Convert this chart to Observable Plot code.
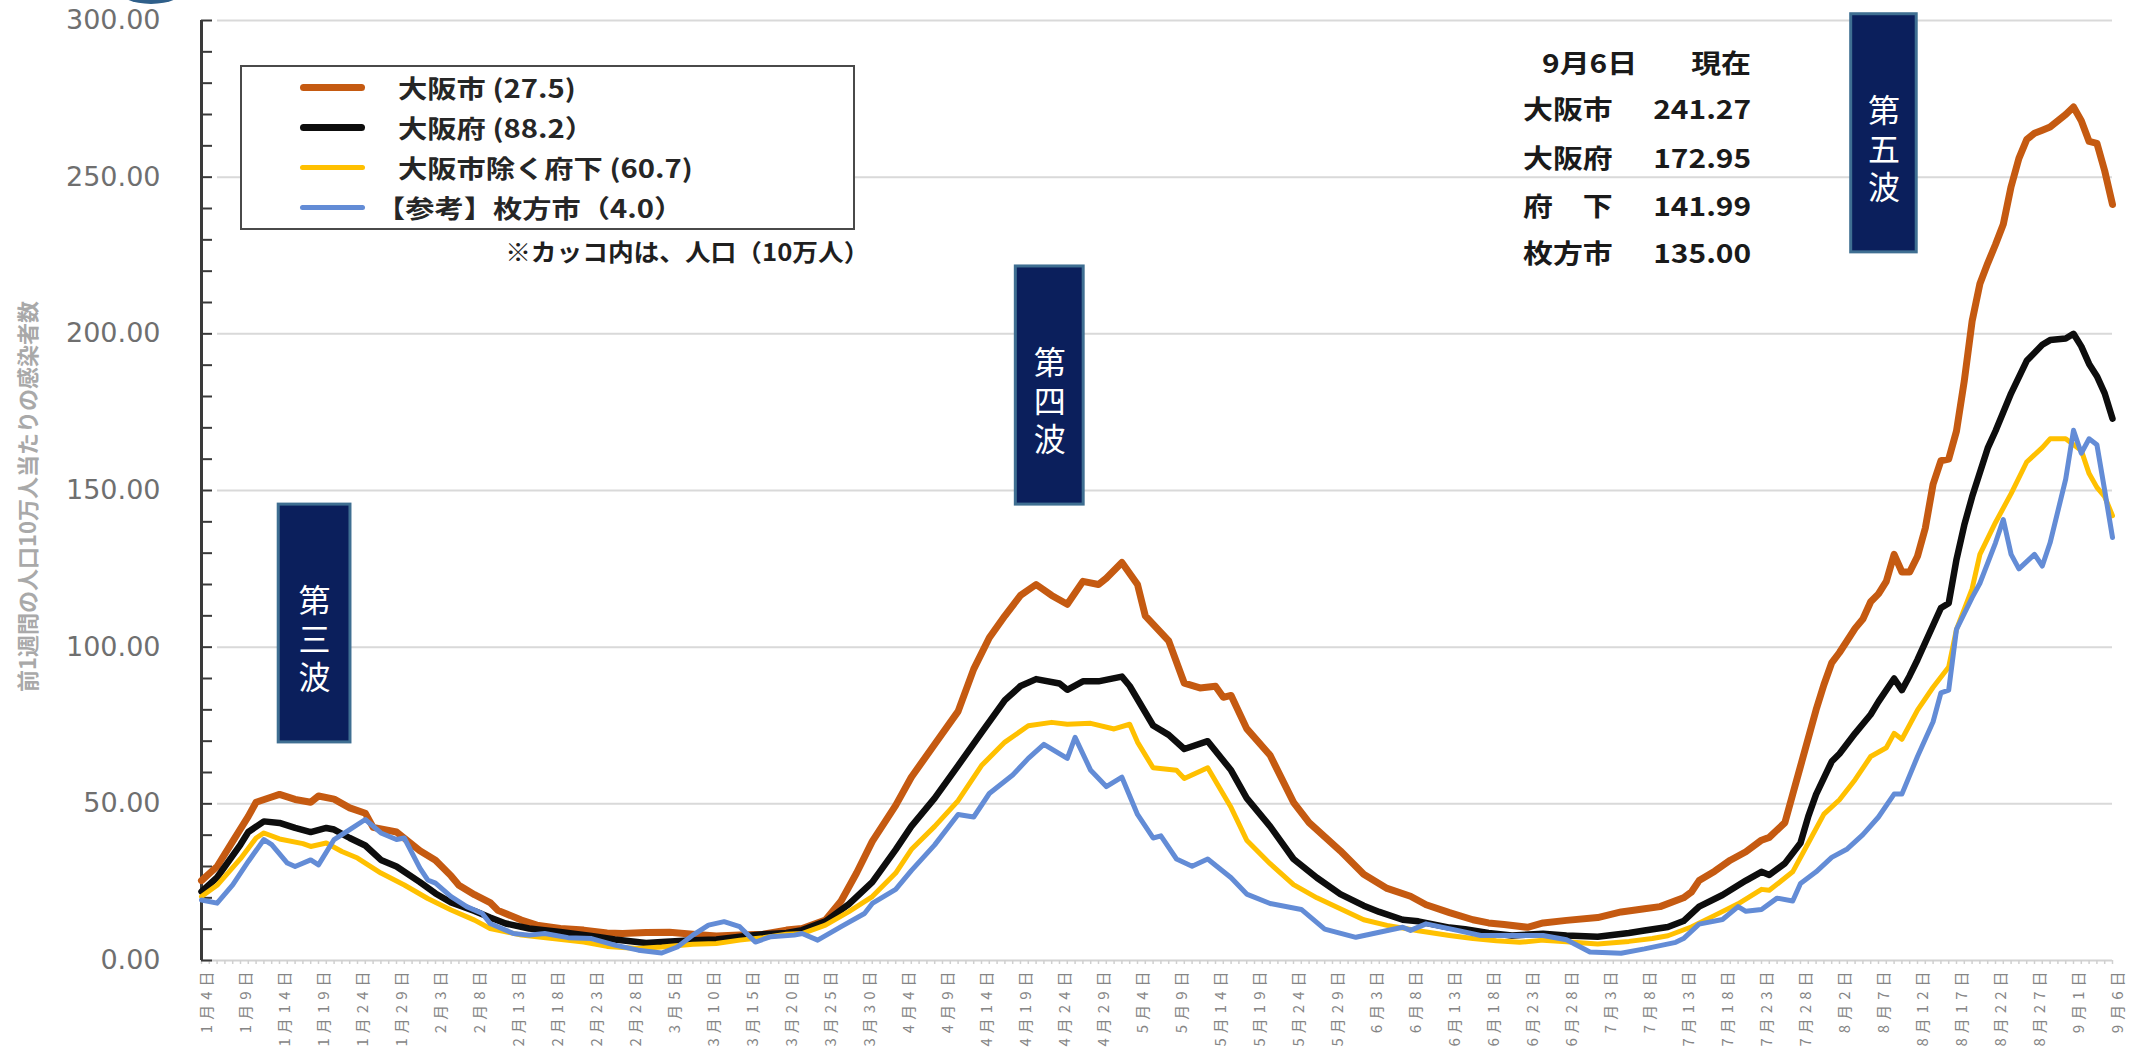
<!DOCTYPE html>
<html>
<head>
<meta charset="utf-8">
<script src="https://cdn.jsdelivr.net/npm/d3@7"></script>
<script src="https://cdn.jsdelivr.net/npm/@observablehq/plot@0.6"></script>
<style>
  html, body { margin: 0; padding: 0; background: #fff; }
  #wrap { position: relative; width: 2130px; height: 1051px; overflow: hidden; font-family: "Noto Sans CJK JP", sans-serif; }
  #chart svg { display: block; }
  g[aria-label="x-axis tick label"] text { letter-spacing: 5px; }
  g[aria-label="ytitle"] text { letter-spacing: 2px; }
  .legend { position: absolute; left: 240px; top: 65px; width: 615px; height: 165px; border: 2px solid #4a4a4a; box-sizing: border-box; background: #fff; }
  .sw { position: absolute; left: 58px; width: 65px; border-radius: 5px; }
  .lt { position: absolute; white-space: nowrap; font-size: 25px; font-weight: bold; color: #262626; height: 40px; line-height: 40px; transform: scaleX(1.17); transform-origin: left center; }
  .note { position: absolute; right: calc(2130px - 869px); top: 231px; height: 40px; line-height: 40px; white-space: nowrap; font-size: 24px; font-weight: bold; color: #1f1f1f; transform: scaleX(1.07); transform-origin: right center; }
  .tl, .tv { position: absolute; white-space: nowrap; font-size: 26px; font-weight: bold; color: #1a1a1a; height: 40px; line-height: 40px; }
  .tl { transform: scaleX(1.15); transform-origin: left center; }
  .tv { transform: scaleX(1.15); transform-origin: right center; text-align: right; }
  .blob { position: absolute; left: 118px; top: -26px; width: 66px; height: 30px; border-radius: 50%; background: #2f5f8a; }
</style>
</head>
<body>
<div id="wrap">
  <div id="chart"></div>
  <div class="blob"></div>
</div>
<script>
// ---- Data: [days since 2021-01-04, value per 100k over previous week] ----
const seriesNames = ["大阪市", "大阪府", "大阪市除く府下", "枚方市"];
const legendLabels = ["大阪市 (27.5)", "大阪府 (88.2）", "大阪市除く府下 (60.7)", "【参考】枚方市（4.0）"];
const seriesColors = ["#c55a11", "#0d0d0d", "#ffc000", "#638cd6"];

const osakaCity = [[0,25.5],[2,30],[4,38],[6,46],[7,50.5],[9,52.2],[10,53],[12,51.4],[14,50.5],[15,52.5],[17,51.5],[19,48.7],[21,47],[22,42.5],[25,41],[26,39],[28,35],[30,32],[32,27],[33,24],[35,21],[37,18.5],[38,16],[41,12.9],[43,11.3],[46,10.2],[49,9.7],[52,8.8],[54,8.6],[57,8.9],[60,9],[63,8.4],[66,7.8],[69,8.1],[72,8.4],[75,9.7],[77,10.2],[80,12.9],[82,19],[84,28],[86,38],[89,49.5],[91,58.5],[94,69],[97,79.5],[99,93],[101,103],[103,110],[105,116.5],[107,120],[109,116.5],[111,113.7],[113,121],[115,120],[116,122],[118,127],[120,120],[121,110],[124,102],[126,88.5],[128,87],[130,87.5],[131,84],[132,84.6],[134,74],[137,65.5],[140,50.5],[142,44],[146,35],[149,27.5],[152,23],[155,20.5],[157,17.8],[160,15.3],[163,13],[165,12],[167,11.5],[170,10.6],[172,12],[175,12.8],[179,13.7],[182,15.5],[185,16.5],[187,17.2],[190,20],[191,21.8],[192,25.5],[194,28.5],[196,32],[198,34.7],[200,38.4],[201,39.3],[203,44],[204,53],[205,62],[207,80],[208,88],[209,95],[210,98.3],[212,106],[213,109],[214,114.5],[215,117],[216,121],[217,129.6],[218,124],[219,124],[220,129],[221,138],[222,152],[223,159.5],[224,160],[225,169],[226,185],[227,204],[228,216],[229,222.5],[230,228.5],[231,235],[232,247],[233,256],[234,262],[235,264],[236,265],[237,266],[238,268],[239,270],[240,272.4],[241,268],[242,261.4],[243,260.8],[244,252],[245,241.27]];

const osakaPref = [[0,22],[2,26.5],[5,37],[6,41],[8,44.4],[10,43.9],[12,42.3],[14,41],[16,42.3],[17,41.8],[19,39.1],[21,36.7],[23,32.1],[25,30],[28,25],[30,21.4],[32,18.5],[35,15.8],[37,13.7],[39,11.8],[42,10.2],[46,9.1],[50,7.8],[53,6.7],[57,5.6],[59,5.9],[63,6.5],[66,6.7],[69,7.6],[72,8.4],[75,8.8],[77,9.7],[80,12.5],[83,18],[86,25],[89,35.4],[91,42.8],[94,51.8],[97,62.2],[100,72.7],[103,83.1],[105,87.6],[107,89.8],[110,88.4],[111,86.4],[113,89.1],[115,89.1],[118,90.6],[119,87.6],[122,75],[124,72],[126,67.5],[129,70],[132,60.7],[134,51.8],[137,42.8],[140,32.4],[143,26.4],[146,21.2],[149,17.5],[151,15.5],[154,13],[156,12.5],[160,10.5],[162,10],[165,8.8],[168,8],[172,8.5],[175,8],[179,7.6],[183,8.8],[185,9.6],[188,10.7],[190,12.6],[192,17.2],[195,20.9],[198,25.5],[200,28.3],[201,27.3],[203,31],[205,37.5],[206,46],[207,53],[209,63.5],[210,66],[212,72.5],[214,78.5],[215,82.6],[217,90],[218,86.3],[219,90.9],[220,96],[222,107],[223,112.5],[224,114],[225,128],[226,139],[227,148],[229,163.5],[230,169],[232,181],[234,191.4],[236,196.5],[237,198],[239,198.5],[240,200],[241,196],[242,190.4],[243,186.5],[244,181],[245,172.95]];

const prefExclCity = [[0,20.4],[2,24],[5,32.5],[7,39.1],[8,40.7],[10,38.8],[13,37.3],[14,36.4],[16,37.5],[18,34.8],[20,32.7],[23,27.9],[26,24.1],[29,19.8],[32,16.1],[35,12.9],[37,10.2],[41,8.1],[45,7],[49,5.9],[52,4.5],[56,3.8],[59,4.3],[63,5.2],[66,5.4],[69,6.5],[72,7.3],[75,8.4],[77,8.6],[80,11.3],[83,15.6],[86,20.4],[89,27.9],[91,35.4],[94,42.8],[97,51],[100,62.2],[103,69.7],[106,74.9],[109,76],[111,75.4],[114,75.7],[117,73.9],[119,75.4],[120,69.7],[122,61.5],[125,60.7],[126,58.1],[129,61.5],[132,48.8],[134,38.4],[137,30.9],[140,24.2],[143,20],[146,16.5],[149,13],[152,11.2],[156,9.5],[160,8],[163,7],[166,6.3],[169,5.8],[172,6.5],[175,6],[179,5.3],[183,6.1],[186,7],[188,7.9],[191,10.7],[194,14.4],[197,18.1],[200,22.7],[201,22.4],[204,28.3],[206,37.5],[208,46.7],[210,51.3],[212,57.7],[214,65.1],[216,67.9],[217,72.5],[218,70.6],[220,79.9],[222,87.2],[224,93.7],[225,105.7],[227,118.6],[228,129.6],[230,139.8],[232,149],[234,159.1],[236,163.7],[237,166.5],[239,166.5],[241,162.8],[242,155.4],[243,151],[244,148],[245,141.99]];

const hirakata = [[0,19.3],[2,18.3],[4,24.1],[6,31.6],[8,38.6],[9,37],[11,31.1],[12,30],[14,32.1],[15,30.5],[17,38.6],[19,41.8],[21,45],[23,40.7],[25,38.6],[26,39.1],[28,29.5],[29,25.7],[30,24.7],[32,20.4],[34,17.2],[36,15],[37,11.8],[40,8.6],[42,8.1],[44,8.6],[47,7.3],[50,7],[53,4.9],[56,3.3],[59,2.4],[61,4.3],[63,8.1],[65,11.3],[67,12.4],[69,10.8],[71,5.9],[73,7.6],[76,8.1],[77,8.6],[79,6.5],[82,10.8],[85,15],[86,18.2],[89,22.7],[91,28.7],[94,36.9],[97,46.6],[99,45.8],[101,53.3],[104,59.2],[106,64.5],[108,69],[111,64.5],[112,71.2],[114,60.7],[116,55.5],[118,58.5],[120,46.6],[122,39.1],[123,39.8],[125,32.4],[127,30.1],[129,32.4],[132,26.4],[134,21.2],[137,18.2],[141,16.3],[144,10],[148,7.4],[151,9],[154,10.6],[155,9.6],[157,11.7],[161,9.6],[164,8],[168,8],[172,8],[175,6.6],[178,2.7],[182,2.3],[185,3.7],[189,5.8],[190,7],[192,11.6],[195,13.1],[197,17.2],[198,15.7],[200,16.3],[202,19.9],[204,19],[205,24.6],[207,28.3],[209,32.9],[211,35.6],[213,40.2],[215,45.8],[217,53.1],[218,53.1],[220,65.1],[222,76.2],[223,85.4],[224,86.3],[225,105.7],[227,115.8],[228,120.4],[230,133.3],[231,140.7],[232,129.6],[233,125],[235,129.6],[236,125.9],[237,133.3],[239,153.6],[240,169.2],[241,161.9],[242,166.5],[243,164.6],[244,150],[245,135]];

// x tick labels (every 5 days from 1月4日)
const tickLabels = ["1月4日","1月9日","1月14日","1月19日","1月24日","1月29日","2月3日","2月8日","2月13日","2月18日","2月23日","2月28日","3月5日","3月10日","3月15日","3月20日","3月25日","3月30日","4月4日","4月9日","4月14日","4月19日","4月24日","4月29日","5月4日","5月9日","5月14日","5月19日","5月24日","5月29日","6月3日","6月8日","6月13日","6月18日","6月23日","6月28日","7月3日","7月8日","7月13日","7月18日","7月23日","7月28日","8月2日","8月7日","8月12日","8月17日","8月22日","8月27日","9月1日","9月6日"];
const yTicks = [0, 50, 100, 150, 200, 250, 300];

// Wave annotation boxes (in data units)
const waveLabels = ["第三波", "第四波", "第五波"];
const waveDays = [[9.9, 19.1], [104.4, 113.1], [211.5, 219.9]];
const waveValues = [[69.6, 145.5], [145.5, 221.5], [226, 302]];

// Current values table
const tableHeader = ["9月6日", "現在"];
const tableNames = ["大阪市", "大阪府", "府　下", "枚方市"];
const tableValues = ["241.27", "172.95", "141.99", "135.00"];
const noteText = "※カッコ内は、人口（10万人）";
const yTitle = "前1週間の人口10万人当たりの感染者数";

// ---- Build ----
const allSeries = [osakaCity, osakaPref, prefExclCity, hirakata];
const widths = [7, 6.5, 5, 5];
const toRows = (arr, name) => arr.map(([day, value]) => ({day, value, series: name}));
const waves = waveLabels.map((label, i) => ({label, x1: waveDays[i][0], x2: waveDays[i][1], y1: waveValues[i][0], y2: waveValues[i][1]}));

const W = 2130, H = 1051, mL = 201, mR = 18, mT = 20, mB = 91;
const plotW = W - mL - mR;

const chart = Plot.plot({
  width: W, height: H,
  marginLeft: mL, marginRight: mR, marginTop: mT, marginBottom: mB,
  style: {fontFamily: "'Noto Sans CJK JP', sans-serif", background: "transparent", overflow: "visible"},
  x: {domain: [0, 245], label: null},
  y: {domain: [0, 300], label: null},
  color: {domain: seriesNames, range: seriesColors},
  marks: [
    Plot.ruleY(yTicks.slice(1), {stroke: "#d9d9d9", strokeWidth: 2, insetLeft: 16}),
    Plot.ruleY([0], {stroke: "#d2d2d2", strokeWidth: 2}),
    Plot.axisX({ticks: d3.range(0, 246), tickSize: 4, tickFormat: () => "", stroke: "#d0d0d0", strokeWidth: 1.5}),
    Plot.axisX({ticks: tickLabels.map((_, i) => i * 5), tickFormat: d => tickLabels[Math.round(d / 5)], tickRotate: -90, tickSize: 0, tickPadding: 6, fontSize: 15, fill: "#858585", dx: 6}),
    Plot.axisY({ticks: yTicks, tickFormat: d => d.toFixed(2), tickSize: 0, tickPadding: 41, fontSize: 27, fontFamily: "DejaVu Sans", fill: "#6f6f6f"}),
    Plot.ruleY(d3.range(0, 301, 10), {stroke: "#3a3a3a", strokeWidth: 2, insetRight: plotW - 11}),
    Plot.ruleX([0], {stroke: "#3a3a3a", strokeWidth: 3}),
    Plot.text([yTitle], {text: d => d, frameAnchor: "left", textAnchor: "middle", dx: -173, dy: 6, rotate: -90, fontSize: 22, fontWeight: "bold", fill: "#a9a9a9", ariaLabel: "ytitle"}),
    ...allSeries.map((arr, i) => Plot.line(toRows(arr, seriesNames[i]), {x: "day", y: "value", stroke: "series", strokeWidth: widths[i], strokeLinejoin: "round", strokeLinecap: "round"})),
    Plot.rect(waves, {x1: "x1", x2: "x2", y1: "y1", y2: "y2", fill: "#0b1f5c", stroke: "#3f6f92", strokeWidth: 3}),
    Plot.text(waves, {x: d => (d.x1 + d.x2) / 2, y: d => (d.y1 + d.y2) / 2, text: d => d.label.split("").join("\n"), fill: "white", fontSize: 32, lineHeight: 1.2, dy: 15})
  ]
});
document.getElementById("chart").appendChild(chart);

// ---- Legend (inside plot area, top-left) ----
const wrap = document.getElementById("wrap");
const legend = document.createElement("div");
legend.className = "legend";
const rowCenters = [22, 62, 102, 142];
const swH = [7, 7, 5, 5];
legendLabels.forEach((lab, i) => {
  const sw = document.createElement("div");
  sw.className = "sw";
  sw.style.top = (rowCenters[i] - swH[i] / 2 - 2) + "px";
  sw.style.height = swH[i] + "px";
  sw.style.background = seriesColors[i];
  legend.appendChild(sw);
  const t = document.createElement("div");
  t.className = "lt";
  t.textContent = lab;
  t.style.left = (i === 3 ? 134 : 156) + "px";
  t.style.top = (rowCenters[i] - 22) + "px";
  legend.appendChild(t);
});
wrap.appendChild(legend);

const note = document.createElement("div");
note.className = "note";
note.textContent = noteText;
wrap.appendChild(note);

// ---- Current-values table ----
const rowsY = [62, 108, 157, 205, 252];
function addCell(cls, text, top, left, right) {
  const d = document.createElement("div");
  d.className = cls;
  d.textContent = text;
  d.style.top = (top - 20) + "px";
  if (left != null) d.style.left = left + "px";
  if (right != null) d.style.right = (W - right) + "px";
  wrap.appendChild(d);
}
addCell("tl", tableHeader[0], rowsY[0], 1542, null);
addCell("tv", tableHeader[1], rowsY[0], null, 1751);
tableNames.forEach((n, i) => {
  addCell("tl", n, rowsY[i + 1], 1523, null);
  addCell("tv", tableValues[i], rowsY[i + 1], null, 1751);
});
</script>
</body>
</html>
